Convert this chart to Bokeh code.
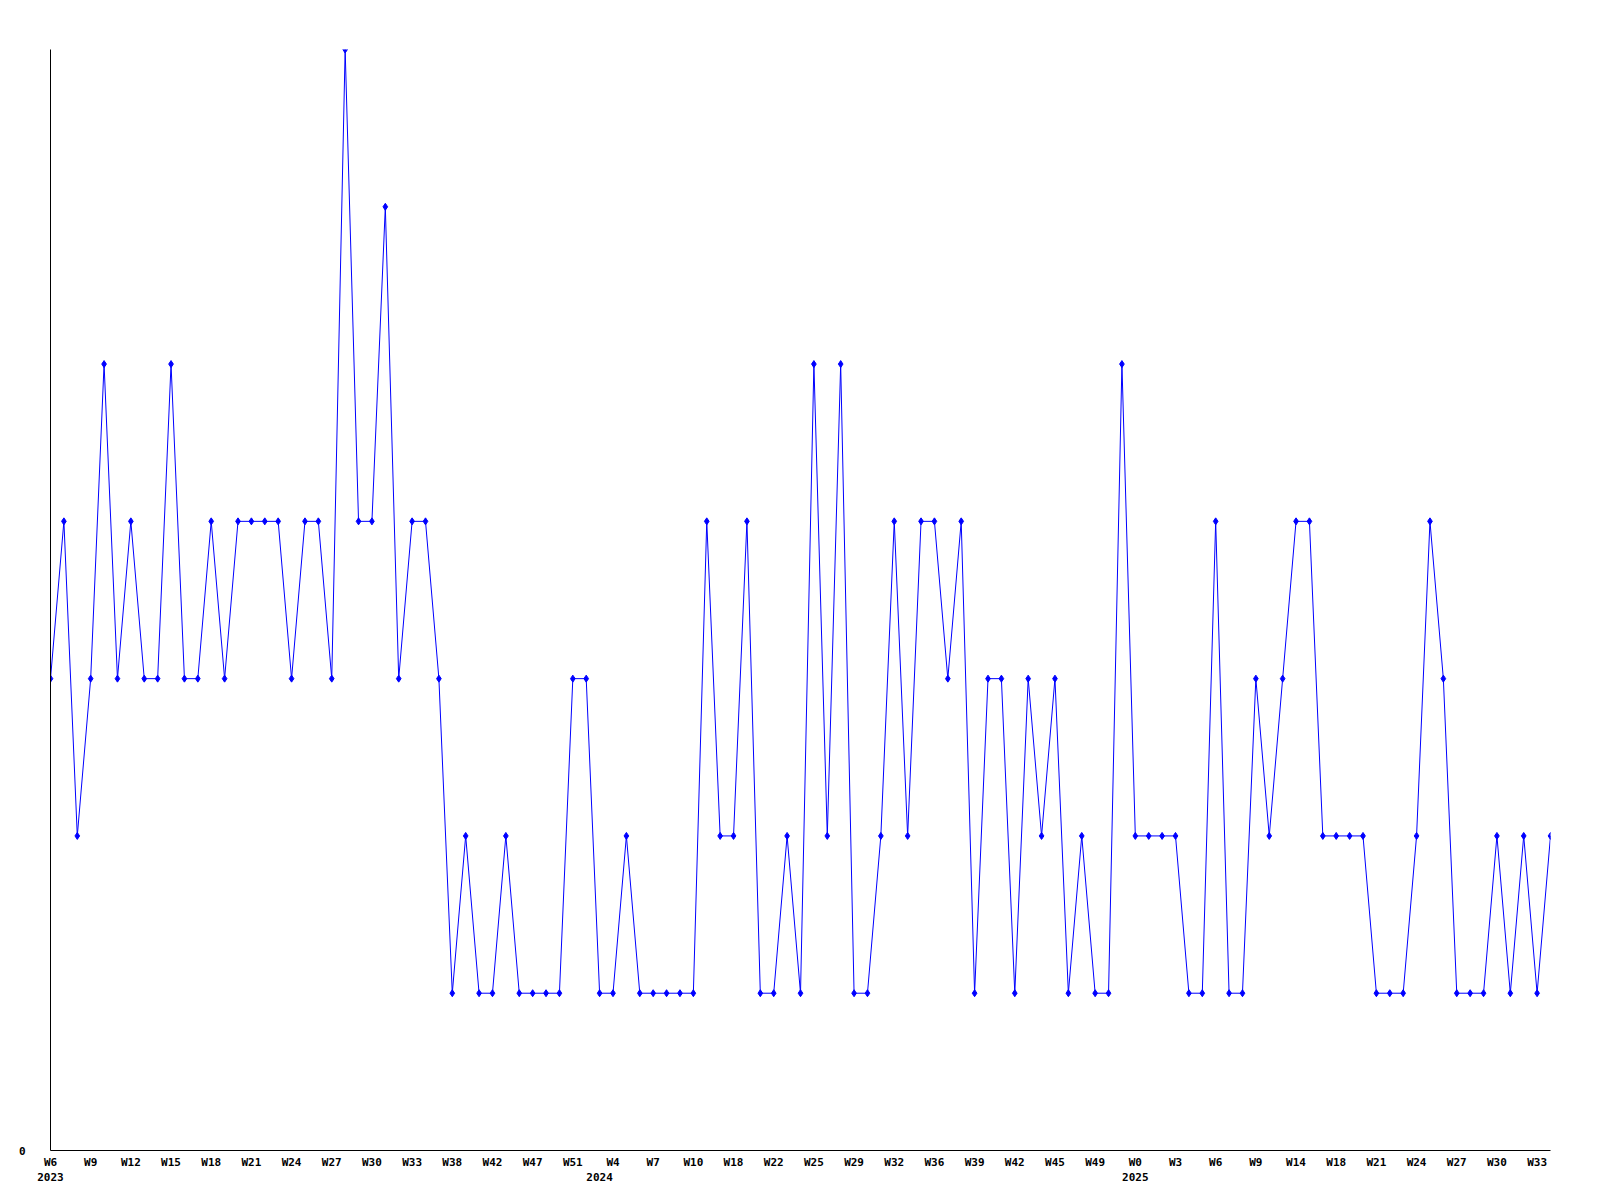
from bokeh.plotting import figure
from bokeh.models import Range1d, FixedTicker, LinearAxis, ColumnDataSource
from bokeh.embed import file_html
from bokeh.resources import INLINE

# Weekly values (113 consecutive samples)
values = [3, 4, 2, 3, 5, 3, 4, 3, 3, 5,
          3, 3, 4, 3, 4, 4, 4, 4, 3, 4,
          4, 3, 7, 4, 4, 6, 3, 4, 4, 3,
          1, 2, 1, 1, 2, 1, 1, 1, 1, 3,
          3, 1, 1, 2, 1, 1, 1, 1, 1, 4,
          2, 2, 4, 1, 1, 2, 1, 5, 2, 5,
          1, 1, 2, 4, 2, 4, 4, 3, 4, 1,
          3, 3, 1, 3, 2, 3, 1, 2, 1, 1,
          5, 2, 2, 2, 2, 1, 1, 4, 1, 1,
          3, 2, 3, 4, 4, 2, 2, 2, 2, 1,
          1, 1, 2, 4, 3, 1, 1, 1, 2, 1,
          2, 1, 2]

# Week tick labels (every 3rd sample)
week_labels = ["W6", "W9", "W12", "W15", "W18", "W21", "W24", "W27", "W30", "W33",
               "W38", "W42", "W47", "W51", "W4", "W7", "W10", "W18", "W22", "W25",
               "W29", "W32", "W36", "W39", "W42", "W45", "W49", "W0", "W3", "W6",
               "W9", "W14", "W18", "W21", "W24", "W27", "W30", "W33"]
tick_step = 3

# Year labels and the sample index where each year label sits
years = ["2023", "2024", "2025"]
year_idx = [0, 41, 81]

idx = list(range(len(values)))
src = ColumnDataSource(dict(x=idx, y=values))

FONT = "DejaVu Sans Mono"

p = figure(width=1592, height=1192, output_backend="svg", toolbar_location=None,
           x_range=Range1d(0, len(values) - 1), y_range=Range1d(0, 7),
           min_border_left=50, min_border_right=42, min_border_top=49, min_border_bottom=42,
           x_axis_type=None, y_axis_type=None)
p.outline_line_color = None
p.xgrid.visible = False
p.ygrid.visible = False
p.background_fill_color = "white"
p.border_fill_color = "white"

p.line("x", "y", source=src, line_color="#0000ff", line_width=1)
p.scatter("x", "y", source=src, marker="diamond", size=7,
          fill_color="#0000ff", line_color="#0000ff")

# Week axis
ticks = [i * tick_step for i in range(len(week_labels))]
xa = LinearAxis(ticker=FixedTicker(ticks=ticks),
                major_label_overrides={t: l for t, l in zip(ticks, week_labels)})
xa.major_tick_in = 0
xa.major_tick_out = 0
xa.minor_tick_in = 0
xa.minor_tick_out = 0
xa.major_label_standoff = 5
xa.axis_line_color = "black"
xa.major_label_text_font = FONT
xa.major_label_text_font_style = "bold"
xa.major_label_text_font_size = "11px"
xa.major_label_text_color = "black"
p.add_layout(xa, "below")

# Year axis
ya2 = LinearAxis(ticker=FixedTicker(ticks=year_idx),
                 major_label_overrides={t: l for t, l in zip(year_idx, years)})
ya2.axis_line_color = None
ya2.major_tick_in = 0
ya2.major_tick_out = 0
ya2.minor_tick_in = 0
ya2.minor_tick_out = 0
ya2.major_label_standoff = 1
ya2.major_label_text_font = FONT
ya2.major_label_text_font_style = "bold"
ya2.major_label_text_font_size = "11px"
ya2.major_label_text_color = "black"
p.add_layout(ya2, "below")

# Y axis
yax = LinearAxis(ticker=FixedTicker(ticks=[0]))
yax.major_tick_in = 0
yax.major_tick_out = 0
yax.minor_tick_in = 0
yax.minor_tick_out = 0
yax.major_label_standoff = 25
yax.axis_line_color = "black"
yax.major_label_text_font = FONT
yax.major_label_text_font_style = "bold"
yax.major_label_text_font_size = "11px"
yax.major_label_text_color = "black"
p.add_layout(yax, "left")

open("out.html", "w").write(file_html(p, INLINE))
